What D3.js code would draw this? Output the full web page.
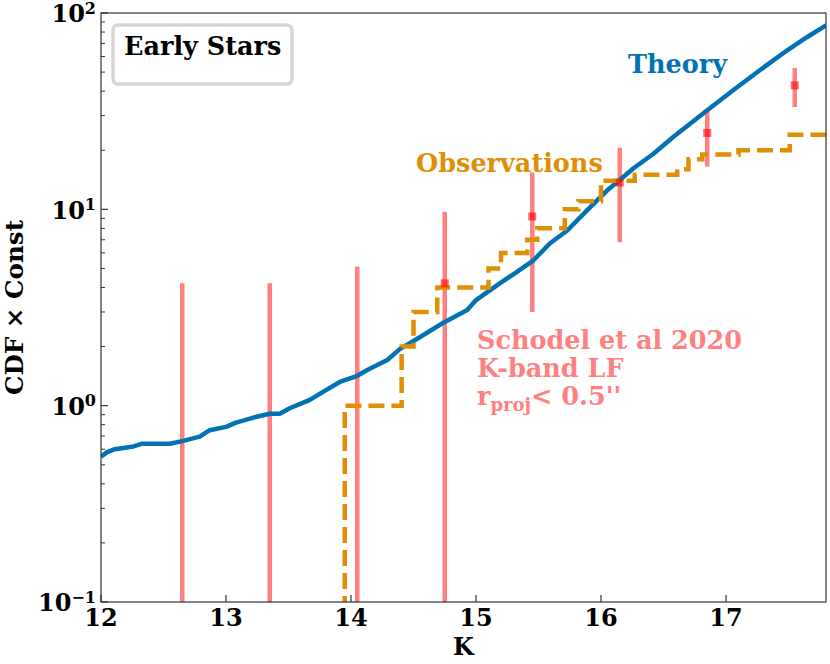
<!DOCTYPE html>
<html>
<head>
<meta charset="utf-8">
<script src="https://cdn.jsdelivr.net/npm/d3@7"></script>
<style>
  body { margin: 0; background: #fff; }
  text { font-family: "DejaVu Serif", serif; font-weight: bold; }
</style>
</head>
<body>
<div id="chart"></div>
<script>
// Theory curve (K magnitude, CDF x const)
var theoryK = [12.0, 12.05, 12.11, 12.26, 12.33, 12.55, 12.65, 12.79, 12.87, 13.0, 13.08, 13.22, 13.35, 13.43,
               13.51, 13.67, 13.81, 13.91, 14.05, 14.13, 14.29, 14.39, 14.55, 14.75, 14.93, 15.0, 15.19, 15.31,
               15.46, 15.59, 15.73, 15.89, 16.05, 16.15, 16.26, 16.42, 16.58, 16.85, 17.06, 17.27, 17.49, 17.65, 17.8];
var theoryV = [0.55, 0.58, 0.60, 0.62, 0.64, 0.64, 0.66, 0.695, 0.75, 0.78, 0.82, 0.87, 0.91, 0.91,
               0.97, 1.07, 1.21, 1.32, 1.42, 1.52, 1.71, 1.94, 2.23, 2.67, 3.07, 3.45, 4.2, 4.72,
               5.5, 6.7, 7.8, 9.9, 12.5, 14.1, 16.2, 19.2, 23.4, 32, 40.5, 51.1, 64.6, 75.5, 86.5];

// Observations (cumulative counts, step after)
var obsK = [13.95, 13.95, 14.405, 14.50, 14.69, 15.10, 15.20, 15.41, 15.49, 15.71, 15.82, 16.00, 16.27, 16.61, 16.70, 16.81, 17.10, 17.51, 17.8];
var obsN = [0, 1, 2, 3, 4, 5, 6, 7, 8, 10, 11, 14, 15, 16, 18, 19, 20, 24, 24];

// Schodel et al 2020 K-band LF points
var sK = [12.65, 13.35, 14.05, 14.75, 15.45, 16.15, 16.85, 17.55];
var sV = [0, 0, 0, 4.2, 9.2, 13.7, 24.5, 42.8];
var sErr = [4.2, 4.2, 5.1, 5.5, 6.2, 6.9, 8.0, 9.6];

var xTicks = [12, 13, 14, 15, 16, 17];
var yDecades = [-1, 0, 1, 2];

var W = 830, H = 664;
var margin = { left: 101, right: 4, top: 13, bottom: 62 };
var blue = "#0173b2", orange = "#de8f05", pink = "#ff8080";

var svg = d3.select("#chart").append("svg")
    .attr("width", W).attr("height", H);

var x = d3.scaleLinear().domain([12, 17.8]).range([margin.left, W - margin.right]);
var y = d3.scaleLog().domain([0.1, 100]).range([H - margin.bottom, margin.top]);

svg.append("clipPath").attr("id", "plotclip")
    .append("rect")
    .attr("x", x.range()[0]).attr("y", y.range()[1])
    .attr("width", x.range()[1] - x.range()[0])
    .attr("height", y.range()[0] - y.range()[1]);

function yy(v) { return v > 0 ? y(v) : y.range()[0] + 10; }

var plot = svg.append("g").attr("clip-path", "url(#plotclip)");

// error bars
var bars = plot.append("g");
sK.forEach(function (k, i) {
    bars.append("line")
        .attr("x1", x(k)).attr("x2", x(k))
        .attr("y1", yy(sV[i] - sErr[i])).attr("y2", yy(sV[i] + sErr[i]))
        .attr("stroke", pink).attr("stroke-width", 4.5);
});

// theory
plot.append("path")
    .datum(theoryK.map(function (k, i) { return [k, theoryV[i]]; }))
    .attr("fill", "none").attr("stroke", blue).attr("stroke-width", 4.5)
    .attr("stroke-linejoin", "round")
    .attr("d", d3.line().x(function (d) { return x(d[0]); }).y(function (d) { return yy(d[1]); }));

// observations
plot.append("path")
    .datum(obsK.map(function (k, i) { return [k, obsN[i]]; }))
    .attr("fill", "none").attr("stroke", orange).attr("stroke-width", 4.5)
    .attr("stroke-dasharray", "16,7")
    .attr("d", d3.line().curve(d3.curveStepAfter)
        .x(function (d) { return x(d[0]); }).y(function (d) { return yy(d[1]); }));

// markers
sK.forEach(function (k, i) {
    if (sV[i] > 0) {
        plot.append("rect")
            .attr("x", x(k) - 4).attr("y", y(sV[i]) - 4)
            .attr("width", 8).attr("height", 8)
            .attr("fill", "red").attr("opacity", 0.6);
    }
});

// frame
svg.append("rect")
    .attr("x", x.range()[0]).attr("y", y.range()[1])
    .attr("width", x.range()[1] - x.range()[0])
    .attr("height", y.range()[0] - y.range()[1])
    .attr("fill", "none").attr("stroke", "#333").attr("stroke-width", 1.2);

// x ticks (inward)
var xa = svg.append("g");
xTicks.forEach(function (t) {
    xa.append("line")
        .attr("x1", x(t)).attr("x2", x(t))
        .attr("y1", y.range()[0]).attr("y2", y.range()[0] - 7)
        .attr("stroke", "#333").attr("stroke-width", 1.2);
    xa.append("text")
        .attr("x", x(t)).attr("y", 626)
        .attr("text-anchor", "middle").attr("font-size", 24)
        .text(t);
});

// y ticks (inward), log
var ya = svg.append("g");
yDecades.forEach(function (e) {
    var v = Math.pow(10, e);
    ya.append("line")
        .attr("x1", x.range()[0]).attr("x2", x.range()[0] + 7)
        .attr("y1", y(v)).attr("y2", y(v))
        .attr("stroke", "#333").attr("stroke-width", 1.2);
    var t = ya.append("text")
        .attr("x", 96).attr("y", y(v) + 9.3)
        .attr("text-anchor", "end").attr("font-size", 24);
    t.append("tspan").text("10");
    t.append("tspan").attr("dy", -8.5).attr("font-size", 16)
        .text(e < 0 ? "\u2212" + (-e) : e);
    if (e < 2) {
        for (var m = 2; m <= 9; m++) {
            ya.append("line")
                .attr("x1", x.range()[0]).attr("x2", x.range()[0] + 4)
                .attr("y1", y(m * v)).attr("y2", y(m * v))
                .attr("stroke", "#333").attr("stroke-width", 1);
        }
    }
});

// axis labels
svg.append("text")
    .attr("x", (x.range()[0] + x.range()[1]) / 2).attr("y", 655)
    .attr("text-anchor", "middle").attr("font-size", 24)
    .text("K");
svg.append("text")
    .attr("transform", "translate(23," + ((y.range()[0] + y.range()[1]) / 2) + ") rotate(-90)")
    .attr("text-anchor", "middle").attr("font-size", 24.6)
    .text("CDF \u00d7 Const");

// legend box
svg.append("rect")
    .attr("x", 113).attr("y", 25).attr("width", 179).attr("height", 59).attr("rx", 5)
    .attr("fill", "#fff").attr("stroke", "#d6d6d6").attr("stroke-width", 3.5);
svg.append("text")
    .attr("x", 124).attr("y", 55).attr("font-size", 25.5)
    .text("Early Stars");

// annotations
svg.append("text")
    .attr("x", 628).attr("y", 73).attr("font-size", 25.5).attr("fill", blue)
    .text("Theory");
svg.append("text")
    .attr("x", 416).attr("y", 172).attr("font-size", 25.5).attr("fill", orange)
    .text("Observations");

var sch = svg.append("g").attr("fill", pink).attr("font-size", 25.5);
sch.append("text").attr("x", 477).attr("y", 349).text("Schodel et al 2020");
sch.append("text").attr("x", 477).attr("y", 377).text("K-band LF");
var r = sch.append("text").attr("x", 477).attr("y", 405);
r.append("tspan").text("r");
r.append("tspan").attr("dy", 6).attr("font-size", 18).text("proj");
r.append("tspan").attr("dy", -6).text("< 0.5''");
</script>
</body>
</html>
